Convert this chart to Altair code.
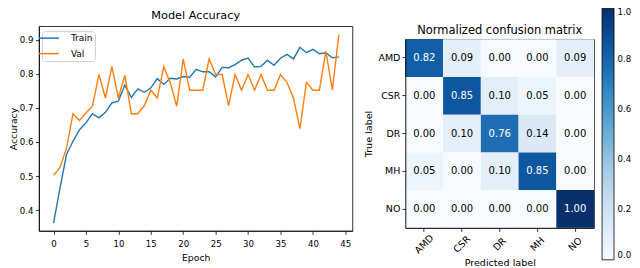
import altair as alt
import pandas as pd

# ---------------- data ----------------
epochs = list(range(45))
train_acc = [0.362, 0.465, 0.563, 0.602, 0.636, 0.656, 0.683, 0.671, 0.687, 0.715,
             0.720, 0.767, 0.731, 0.756, 0.746, 0.759, 0.786, 0.769, 0.787, 0.785,
             0.792, 0.790, 0.813, 0.806, 0.806, 0.791, 0.819, 0.818, 0.827, 0.840,
             0.846, 0.820, 0.822, 0.840, 0.825, 0.846, 0.857, 0.844, 0.878, 0.862,
             0.872, 0.859, 0.862, 0.847, 0.850]
val_acc = [0.502, 0.525, 0.582, 0.683, 0.663, 0.685, 0.705, 0.798, 0.729, 0.821,
           0.729, 0.796, 0.683, 0.683, 0.707, 0.752, 0.729, 0.821, 0.774, 0.705,
           0.844, 0.752, 0.752, 0.752, 0.844, 0.798, 0.798, 0.707, 0.798, 0.752,
           0.798, 0.752, 0.798, 0.752, 0.752, 0.798, 0.775, 0.729, 0.639, 0.775,
           0.752, 0.752, 0.867, 0.752, 0.915]
series_names = ["Train", "Val"]
series_colors = ["#1f77b4", "#ff7f0e"]

classes = ["AMD", "CSR", "DR", "MH", "NO"]
cm_rows = [
    [0.82, 0.09, 0.00, 0.00, 0.09],
    [0.00, 0.85, 0.10, 0.05, 0.00],
    [0.00, 0.10, 0.76, 0.14, 0.00],
    [0.05, 0.00, 0.10, 0.85, 0.00],
    [0.00, 0.00, 0.00, 0.00, 1.00],
]
blues_stops = [0, 0.125, 0.25, 0.375, 0.5, 0.625, 0.75, 0.875, 1.0]
blues_colors = ["#f7fbff", "#deebf7", "#c6dbef", "#9ecae1", "#6baed6",
                "#4292c6", "#2171b5", "#08519c", "#08306b"]

x_ticks = list(range(0, 50, 5))
y_ticks = [0.4, 0.5, 0.6, 0.7, 0.8, 0.9]
cbar_ticks = [0.0, 0.2, 0.4, 0.6, 0.8, 1.0]

FONT = "DejaVu Sans"

line_df = pd.DataFrame({
    "Epoch": epochs * 2,
    "Accuracy": train_acc + val_acc,
    "Series": ["Train"] * len(epochs) + ["Val"] * len(epochs),
})
cm_df = pd.DataFrame([
    {"true": t, "pred": p, "value": cm_rows[i][j]}
    for i, t in enumerate(classes) for j, p in enumerate(classes)
])

L_W, L_H = 314, 205
M_W, M_H = 189, 189

# ---------------- accuracy plot ----------------
line_chart = alt.Chart(line_df).mark_line(strokeWidth=1.4).encode(
    x=alt.X("Epoch:Q",
            scale=alt.Scale(domain=[-2.25, 46.1], nice=False, zero=False),
            axis=alt.Axis(values=x_ticks, title="Epoch", labelFontSize=8.6,
                          titleFontSize=9.3, tickSize=3.5, labelPadding=5,
                          titlePadding=6, labelFlush=False)),
    y=alt.Y("Accuracy:Q",
            scale=alt.Scale(domain=[0.339, 0.940], nice=False, zero=False),
            axis=alt.Axis(values=y_ticks, format=".1f", title="Accuracy",
                          labelFontSize=8.6, titleFontSize=9.3, tickSize=3.5,
                          labelPadding=2.5, titlePadding=1)),
    stroke=alt.Stroke("Series:N",
                      scale=alt.Scale(domain=series_names, range=series_colors),
                      legend=alt.Legend(title=None, orient="none", legendX=3, legendY=5,
                                        symbolType="M-2.5,0L2.5,0", symbolSize=64,
                                        symbolStrokeWidth=1.5, labelFontSize=9,
                                        labelOffset=17, rowPadding=5.5, padding=2,
                                        fillColor="white", strokeColor="#cccccc",
                                        cornerRadius=3, labelColor="black",
                                        labelFont=FONT)),
).properties(
    width=L_W, height=L_H,
    title=alt.TitleParams("Model Accuracy", fontSize=11.3, offset=-4.5,
                          baseline="alphabetic", frame="group", anchor="middle",
                          fontWeight="normal", font=FONT, color="black"),
)

# ---------------- confusion matrix ----------------
base = alt.Chart(cm_df).encode(
    x=alt.X("pred:N", sort=classes, title="Predicted label",
            axis=alt.Axis(labelAngle=315, labelAlign="center", labelBaseline="middle",
                          labelPadding=12.5, labelFontSize=9.5, titleFontSize=9.6,
                          tickSize=3.5, titlePadding=2.5)),
    y=alt.Y("true:N", sort=classes, title="True label",
            axis=alt.Axis(labelAngle=0, labelFontSize=9.5, titleFontSize=9.6,
                          tickSize=3.5, labelPadding=2, titlePadding=4)),
)
rect = base.mark_rect().encode(
    fill=alt.Fill("value:Q",
                  scale=alt.Scale(domain=blues_stops, range=blues_colors),
                  legend=alt.Legend(title=None, orient="none", legendX=564, legendY=-18,
                                    direction="vertical", gradientLength=252,
                                    gradientThickness=12, values=cbar_ticks, format=".1f",
                                    labelFontSize=8.6, labelOffset=3.5,
                                    gradientStrokeColor="black", gradientStrokeWidth=0.8,
                                    labelColor="black", labelFont=FONT)),
)
text = base.mark_text(fontSize=10, font=FONT).encode(
    text=alt.Text("value:Q", format=".2f"),
    color=alt.condition("datum.value > 0.5", alt.value("white"), alt.value("black")),
)
matrix = alt.layer(rect, text).properties(
    width=M_W, height=M_H,
    title=alt.TitleParams("Normalized confusion matrix", fontSize=11.5, offset=-6.5,
                          baseline="alphabetic", frame="group", anchor="middle",
                          fontWeight="normal", font=FONT, color="black"),
)

spacer = alt.Chart(pd.DataFrame({"s": [0]})).mark_point(opacity=0, size=1).encode(
    x=alt.value(0), y=alt.value(0)
).properties(width=M_W, height=13, view=alt.ViewBackground(strokeOpacity=0))

right = alt.vconcat(spacer, matrix, spacing=0, bounds="flush")

chart = alt.hconcat(line_chart, right, spacing=10).properties(
    padding=0, background="white"
).configure_view(
    stroke="black", strokeWidth=0.8
).configure_axis(
    domainColor="black", tickColor="black", labelColor="black", titleColor="black",
    labelFont=FONT, titleFont=FONT, titleFontWeight="normal",
    domainWidth=0.8, tickWidth=0.8, grid=False
)

chart.save("out.html", embed_options={"renderer": "svg", "actions": False})
